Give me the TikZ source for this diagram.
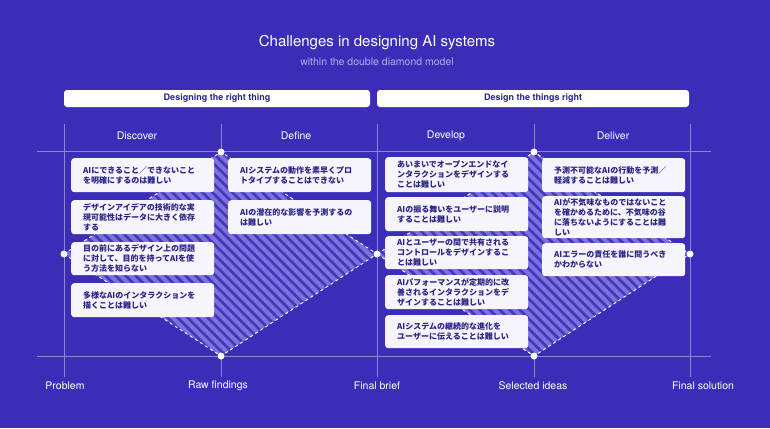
\documentclass[tikz,border=0pt]{standalone}
\usepackage{fontspec}
\setmainfont{TeX Gyre Heros}
\newfontfamily\jpfont{Noto Sans CJK JP}
\usetikzlibrary{positioning}
\definecolor{bgblue}{HTML}{3C2DB9}
\definecolor{gridline}{HTML}{8C85DC}
\definecolor{hatchfill}{HTML}{7C71DE}
\definecolor{hatchline}{HTML}{4537B9}
\definecolor{cardtext}{HTML}{2A2388}
\definecolor{cardwhite}{HTML}{F6F5FD}
\definecolor{subtext}{HTML}{B3ADEB}

\begin{document}
\begin{tikzpicture}[x=1pt,y=-1pt,
  card/.style={fill=cardwhite,rounded corners=3pt,anchor=north west,text width=119pt,inner xsep=12pt,inner ysep=2pt,
    minimum height=34pt,align=left,text=cardtext,font=\jpfont\bfseries\fontsize{8}{9.8}\selectfont},
  bar/.style={fill=white,rounded corners=3pt,minimum height=17pt,text=cardtext,font=\bfseries\fontsize{9}{10}\selectfont},
  phase/.style={text=white,font=\fontsize{10.5}{12}\selectfont},
  grid line/.style={gridline,line width=0.8pt},
  diamond edge/.style={white,dash pattern=on 3pt off 3pt,line width=0.9pt},
  stripe/.style={hatchline,line width=2.5pt},
  vertex dot/.style={circle,fill=white,inner sep=0pt,minimum size=7pt}]
  \fill[bgblue] (0,0) rectangle (770,428);
  \useasboundingbox (0,0) rectangle (770,428);

  \node[text=white,font=\fontsize{15}{18}\selectfont] (title) at (377,43) {Challenges in designing AI systems};
  \node[text=subtext,font=\fontsize{10.5}{12}\selectfont] (subtitle) at (377,62) {within the double diamond model};

  \node[bar,minimum width=306pt] (right thing) at (217,98.5) {Designing the right thing};
  \node[bar,minimum width=312pt] (things right) at (533,98.5) {Design the things right};

  % grid
  \foreach \x in {64,221,377,534,690}
    \draw[grid line] (\x,124) -- (\x,377);
  \draw[grid line] (37,151.5) -- (711,151.5);
  \draw[grid line] (37,356) -- (711,356);

  \coordinate (problem) at (64,254);
  \coordinate (top1) at (221,152);
  \coordinate (raw) at (221,356);
  \coordinate (brief) at (377,254);
  \coordinate (top2) at (534,152);
  \coordinate (selected) at (534,356);
  \coordinate (solution) at (690,254);

  % hatched diamonds
  \begin{scope}
    \clip (problem) -- (top1) -- (brief) -- (raw) -- cycle
          (brief) -- (top2) -- (solution) -- (selected) -- cycle;
    \fill[hatchfill] (0,100) rectangle (770,400);
    \foreach \i in {-400,-390,...,800}
      \draw[stripe] (\i,100) -- ++(320,320);
  \end{scope}
  \draw[diamond edge] (problem) -- (top1) -- (brief) -- (raw) -- cycle;
  \draw[diamond edge] (brief) -- (top2) -- (solution) -- (selected) -- cycle;
  \foreach \p in {problem,top1,raw,brief,top2,selected,solution}
    \node[vertex dot] (\p dot) at (\p) {};

  \node[phase] (discover) at (137,136) {Discover};
  \node[phase] (define) at (296,136) {Define};
  \node[phase] (develop) at (446,136) {Develop};
  \node[phase] (deliver) at (613,136) {Deliver};

  \node[phase] (problem label) at (65,386) {Problem};
  \node[phase] (raw label) at (218,386) {Raw findings};
  \node[phase] (brief label) at (377,386) {Final brief};
  \node[phase] (selected label) at (533,386) {Selected ideas};
  \node[phase] (solution label) at (703,386) {Final solution};

  % Discover
  \node[card] (disc1) at (71,158) {AIにできること／できないこと\\を明確にするのは難しい};
  \node[card] (disc2) at (71,200) {デザインアイデアの技術的な実\\現可能性はデータに大きく依存\\する};
  \node[card,minimum height=33pt] (disc3) at (71,242) {目の前にあるデザイン上の問題\\に対して、目的を持ってAIを使\\う方法を知らない};
  \node[card] (disc4) at (71,283) {多様なAIのインタラクションを\\描くことは難しい};
  % Define
  \node[card] (def1) at (228,158) {AIシステムの動作を素早くプロ\\トタイプすることはできない};
  \node[card] (def2) at (228,200) {AIの潜在的な影響を予測するの\\は難しい};
  % Develop
  \node[card,minimum height=35pt] (dev1) at (385,157) {あいまいでオープンエンドなイ\\ンタラクションをデザインする\\ことは難しい};
  \node[card] (dev2) at (385,197) {AIの振る舞いをユーザーに説明\\することは難しい};
  \node[card,minimum height=33pt] (dev3) at (385,236) {AIとユーザーの間で共有される\\コントロールをデザインするこ\\とは難しい};
  \node[card] (dev4) at (385,275) {AIパフォーマンスが定期的に改\\善されるインタラクションをデ\\ザインすることは難しい};
  \node[card,minimum height=33pt] (dev5) at (385,315) {AIシステムの継続的な進化を\\ユーザーに伝えることは難しい};
  % Deliver
  \node[card] (del1) at (542,158) {予測不可能なAIの行動を予測／\\軽減することは難しい};
  \node[card,minimum height=42pt] (del2) at (542,196) {AIが不気味なものではないこと\\を確かめるために、不気味の谷\\に落ちないようにすることは難\\しい};
  \node[card,minimum height=33pt] (del3) at (542,243) {AIエラーの責任を誰に問うべき\\かわからない};
\end{tikzpicture}
\end{document}
